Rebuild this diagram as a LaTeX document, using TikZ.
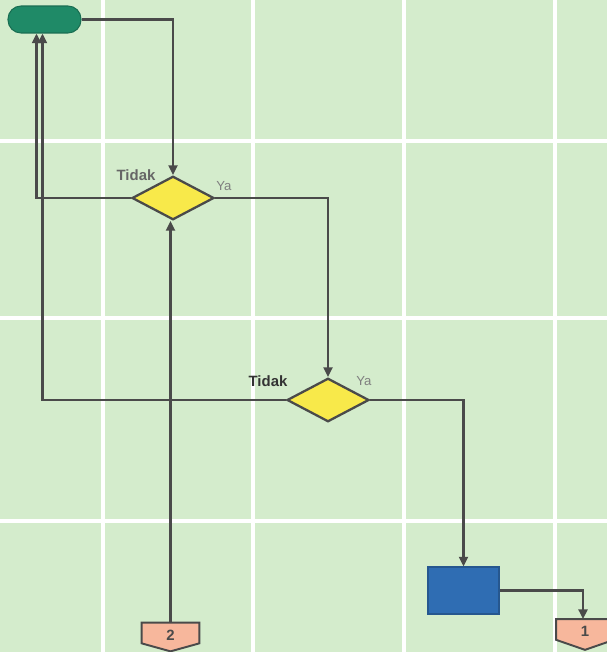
\documentclass[tikz,border=0pt]{standalone}
\usepackage{fontspec}
\setmainfont{Liberation Sans}
\usetikzlibrary{arrows.meta,shapes.geometric,calc}
\definecolor{bggreen}{HTML}{D4ECCC}
\definecolor{linegray}{HTML}{4A4A4A}
\definecolor{termgreen}{HTML}{1F8A67}
\definecolor{dyellow}{HTML}{F8E94A}
\definecolor{pblue}{HTML}{2F6DB3}
\definecolor{csalmon}{HTML}{F7B79C}
\tikzset{
  gridline/.style={white,line width=2.8pt},
  conn/.style={draw=linegray,line width=1.35pt,-{Triangle[length=5.5pt,width=5pt]}},
  terminal/.style={draw=termgreen!80!black,line width=0.6pt,fill=termgreen,rectangle,rounded corners=0.26cm,minimum width=1.46cm,minimum height=0.54cm,inner sep=0pt},
  decision/.style={draw=linegray,line width=1.3pt,fill=dyellow,diamond,minimum width=1.64cm,minimum height=0.87cm,inner sep=0pt},
  process/.style={draw=pblue!80!black,line width=0.6pt,fill=pblue,rectangle,minimum width=1.42cm,minimum height=0.94cm,inner sep=0pt},
  offbox/.style={rectangle,minimum width=1.14cm,minimum height=0.4cm,inner sep=0pt},
  offshape/.style={draw=linegray,line width=1.1pt,fill=csalmon,line join=miter},
  offtext/.style={inner sep=0pt,font=\fontsize{8.5}{9}\selectfont\bfseries,text=linegray},
  nolabel/.style={font=\fontsize{8.5}{10}\selectfont\bfseries,inner sep=0pt},
  yalabel/.style={font=\fontsize{7.5}{8}\selectfont,text=black!50,inner sep=0pt}
}
\begin{document}
\begin{tikzpicture}[x=0.02cm,y=-0.02cm]
\fill[bggreen] (0,0) rectangle (607,652);
\useasboundingbox (0,0) rectangle (607,652);
% grid
\foreach \gx in {103,253,404,555} \draw[gridline] (\gx,0) -- (\gx,652);
\foreach \gy in {141,318,521} \draw[gridline] (0,\gy) -- (607,\gy);
% nodes
\node[terminal] (start) at (44.5,19.5) {};
\node[decision] (d1) at (173,198) {};
\node[decision] (d2) at (328,400) {};
\node[process] (proc) at (463.5,590.5) {};
\node[offbox] (c2) at (170.5,633) {};
\node[offbox] (c1) at (585,629.5) {};
\filldraw[offshape] (c2.north west) -- (c2.north east) -- (c2.south east) -- ($(c2.south)+(0,8)$) -- (c2.south west) -- cycle;
\filldraw[offshape] (c1.north west) -- (c1.north east) -- (c1.south east) -- ($(c1.south)+(0,10)$) -- (c1.south west) -- cycle;
\node[offtext] (c2t) at ($(c2.center)+(0,2)$) {2};
\node[offtext] (c1t) at ($(c1.center)+(0,2)$) {1};
% labels
\node[nolabel,text=black!60] (t1) at (136,175) {Tidak};
\node[yalabel] (y1) at (224,186) {Ya};
\node[nolabel,text=black!80] (t2) at (268,381) {Tidak};
\node[yalabel] (y2) at (364,381) {Ya};
% connectors
\coordinate (in1) at ($(start.south)+(-8,0)$);
\coordinate (in2) at ($(start.south)+(-2,0)$);
\draw[conn] (start.east) -| (d1.north);
\draw[conn] (d1.west) -| (in1);
\draw[conn] (d2.west) -| (in2);
\draw[conn] (d1.east) -| (d2.north);
\draw[conn] (d2.east) -| (proc.north);
\draw[conn] (proc.east) -| ($(c1.north)+(-2,0)$);
\draw[conn] (c2.north) -- (c2.north |- d1.south);
\end{tikzpicture}
\end{document}
